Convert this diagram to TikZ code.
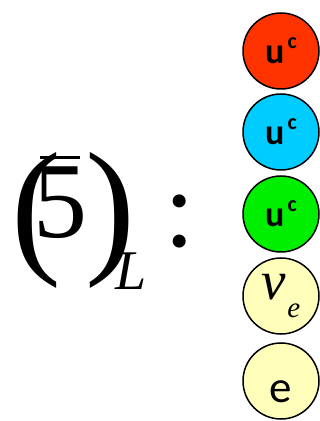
\documentclass[tikz,border=0pt]{standalone}
\usepackage{fontspec}
\setmainfont{Liberation Serif}
\newfontfamily\calfont{Carlito}

\definecolor{ballred}{HTML}{FF3300}
\definecolor{ballcyan}{HTML}{00CCFF}
\definecolor{ballgreen}{HTML}{00EE00}
\definecolor{ballyellow}{HTML}{FFFFBB}

% anti-up quark with a colour index
\newcommand{\upbar}{{\calfont\bfseries\fontsize{36}{36}\selectfont u\kern3pt\raisebox{15pt}{\fontsize{22}{22}\selectfont c}}}

\begin{document}
\begin{tikzpicture}[x=1pt,y=1pt,
  ball/.style={circle,draw=black,line width=1.5pt,minimum size=76pt,inner sep=0pt},
  big/.style={inner sep=0pt,anchor=base,font=\fontsize{#1}{#1}\selectfont}]

  \useasboundingbox (0,0) rectangle (320,421);

  % -------- multiplet name --------
  \node[big=150] (lpar)  at (36,164)  {(};
  \node[big=108] (five)  at (61,183)  {5};
  \node[big=150] (rpar)  at (110,164) {)};
  \node[big=56]  (chir)  at (131,131) {\itshape L};
  \node[big=110] (colon) at (180,174) {:};

  % bar over the 5
  \draw[line width=3pt] (40,263) -- (80,263);

  % -------- members --------
  \node[ball,fill=ballred]    (ured)   at (281,370) {\upbar};
  \node[ball,fill=ballcyan]   (ublue)  at (281,289) {\upbar};
  \node[ball,fill=ballgreen]  (ugreen) at (281,207) {\upbar};
  \node[ball,fill=ballyellow] (nue)    at (281,125)
    {\raisebox{-9pt}{\fontsize{55}{55}\selectfont\itshape ν\kern1pt\raisebox{-18pt}{\fontsize{29}{29}\selectfont e}}};
  \node[ball,fill=ballyellow,text height=44pt,text depth=0pt] (elec) at (281,40)
    {\calfont\fontsize{45}{45}\selectfont e};

\end{tikzpicture}
\end{document}
